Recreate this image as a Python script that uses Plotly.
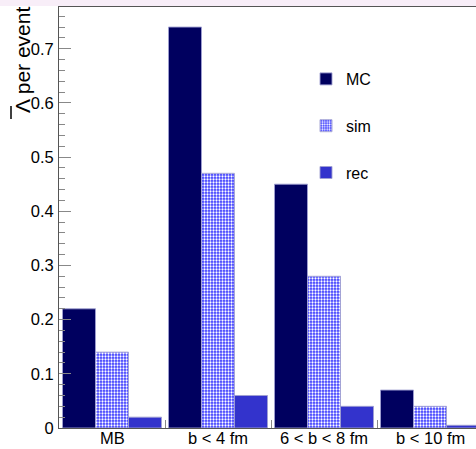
import plotly.graph_objects as go

categories = ["MB", "b < 4 fm", "6 < b < 8 fm", "b < 10 fm"]
mc_values = [0.22, 0.74, 0.45, 0.07]
sim_values = [0.14, 0.47, 0.28, 0.04]
rec_values = [0.02, 0.06, 0.04, 0.005]

W, H = 476, 449
L, T, B, R = 59, 7, 21, 0
pw, ph = W - L - R, H - T - B

fig = go.Figure()
edge = dict(color="rgba(160,160,210,0.9)", width=1)
fig.add_trace(go.Bar(x=categories, y=mc_values, name="MC",
                     marker=dict(color="#00005f", line=edge), legendgroup="a"))
fig.add_trace(go.Bar(x=categories, y=sim_values, name="sim",
                     marker=dict(color="#3a3aff", line=edge,
                                 pattern=dict(shape=".", fgcolor="white", bgcolor="#3a3aff",
                                              size=3, solidity=0.45, fillmode="replace")),
                     legendgroup="b"))
fig.add_trace(go.Bar(x=categories, y=rec_values, name="rec",
                     marker=dict(color="#3333cc", line=edge), legendgroup="c"))

fig.update_layout(
    width=W, height=H,
    margin=dict(l=L, r=R, t=T, b=B, pad=0, autoexpand=False),
    paper_bgcolor="white", plot_bgcolor="white",
    font=dict(family="Liberation Sans, Arial, sans-serif", size=16, color="black"),
    barmode="group", bargap=0.066, bargroupgap=0,
    showlegend=True,
    legend=dict(x=(306 - L) / pw, y=(428 - 62) / ph, xanchor="left", yanchor="top",
                bgcolor="rgba(0,0,0,0)", font=dict(size=16), tracegroupgap=23,
                itemwidth=30),
    xaxis=dict(range=[-0.5, 3.5 - 7 / 106], showline=True, linecolor="#555555",
               linewidth=1, mirror=True, ticks="inside", tickson="boundaries",
               ticklen=8, tickcolor="#888888", showgrid=False, zeroline=False,
               showticklabels=False, automargin=False),
    yaxis=dict(range=[0, 0.777], dtick=0.1, showline=True, linecolor="#555555",
               linewidth=1, ticks="inside", ticklen=12, tickcolor="#888888",
               showgrid=False, zeroline=False, tickformat="~g",
               tickfont=dict(size=16.5), ticklabelstandoff=1, automargin=False,
               minor=dict(dtick=0.02, ticks="inside", ticklen=6, tickcolor="#888888",
                          showgrid=False)),
)

# category labels under the axis
for cat in categories:
    fig.add_annotation(text=cat, xref="x", yref="paper", x=cat,
                       y=-(H - 1 - (H - B)) / ph, xanchor="center", yanchor="bottom",
                       showarrow=False, borderpad=0, font=dict(size=16.5, color="black"))

fig.add_shape(type="rect", xref="paper", yref="paper", x0=-L / pw, x1=1,
              y0=1 + 1 / ph, y1=1 + (T + 1) / ph, fillcolor="#f8eef8", line_width=0,
              layer="below")

title_x = -(L - 23) / pw
fig.add_annotation(text="Λ per event", xref="paper", yref="paper",
                   x=title_x, y=1 + 2 / ph, xanchor="center", yanchor="top",
                   textangle=-90, showarrow=False, font=dict(size=21, color="black"))
# overline on the Lambda
fig.add_shape(type="line", xref="paper", yref="paper",
              x0=-(L - 11) / pw, x1=-(L - 11) / pw,
              y0=(428 - 119) / ph, y1=(428 - 106) / ph,
              line=dict(color="black", width=1.5))

fig.write_html("out.html")
